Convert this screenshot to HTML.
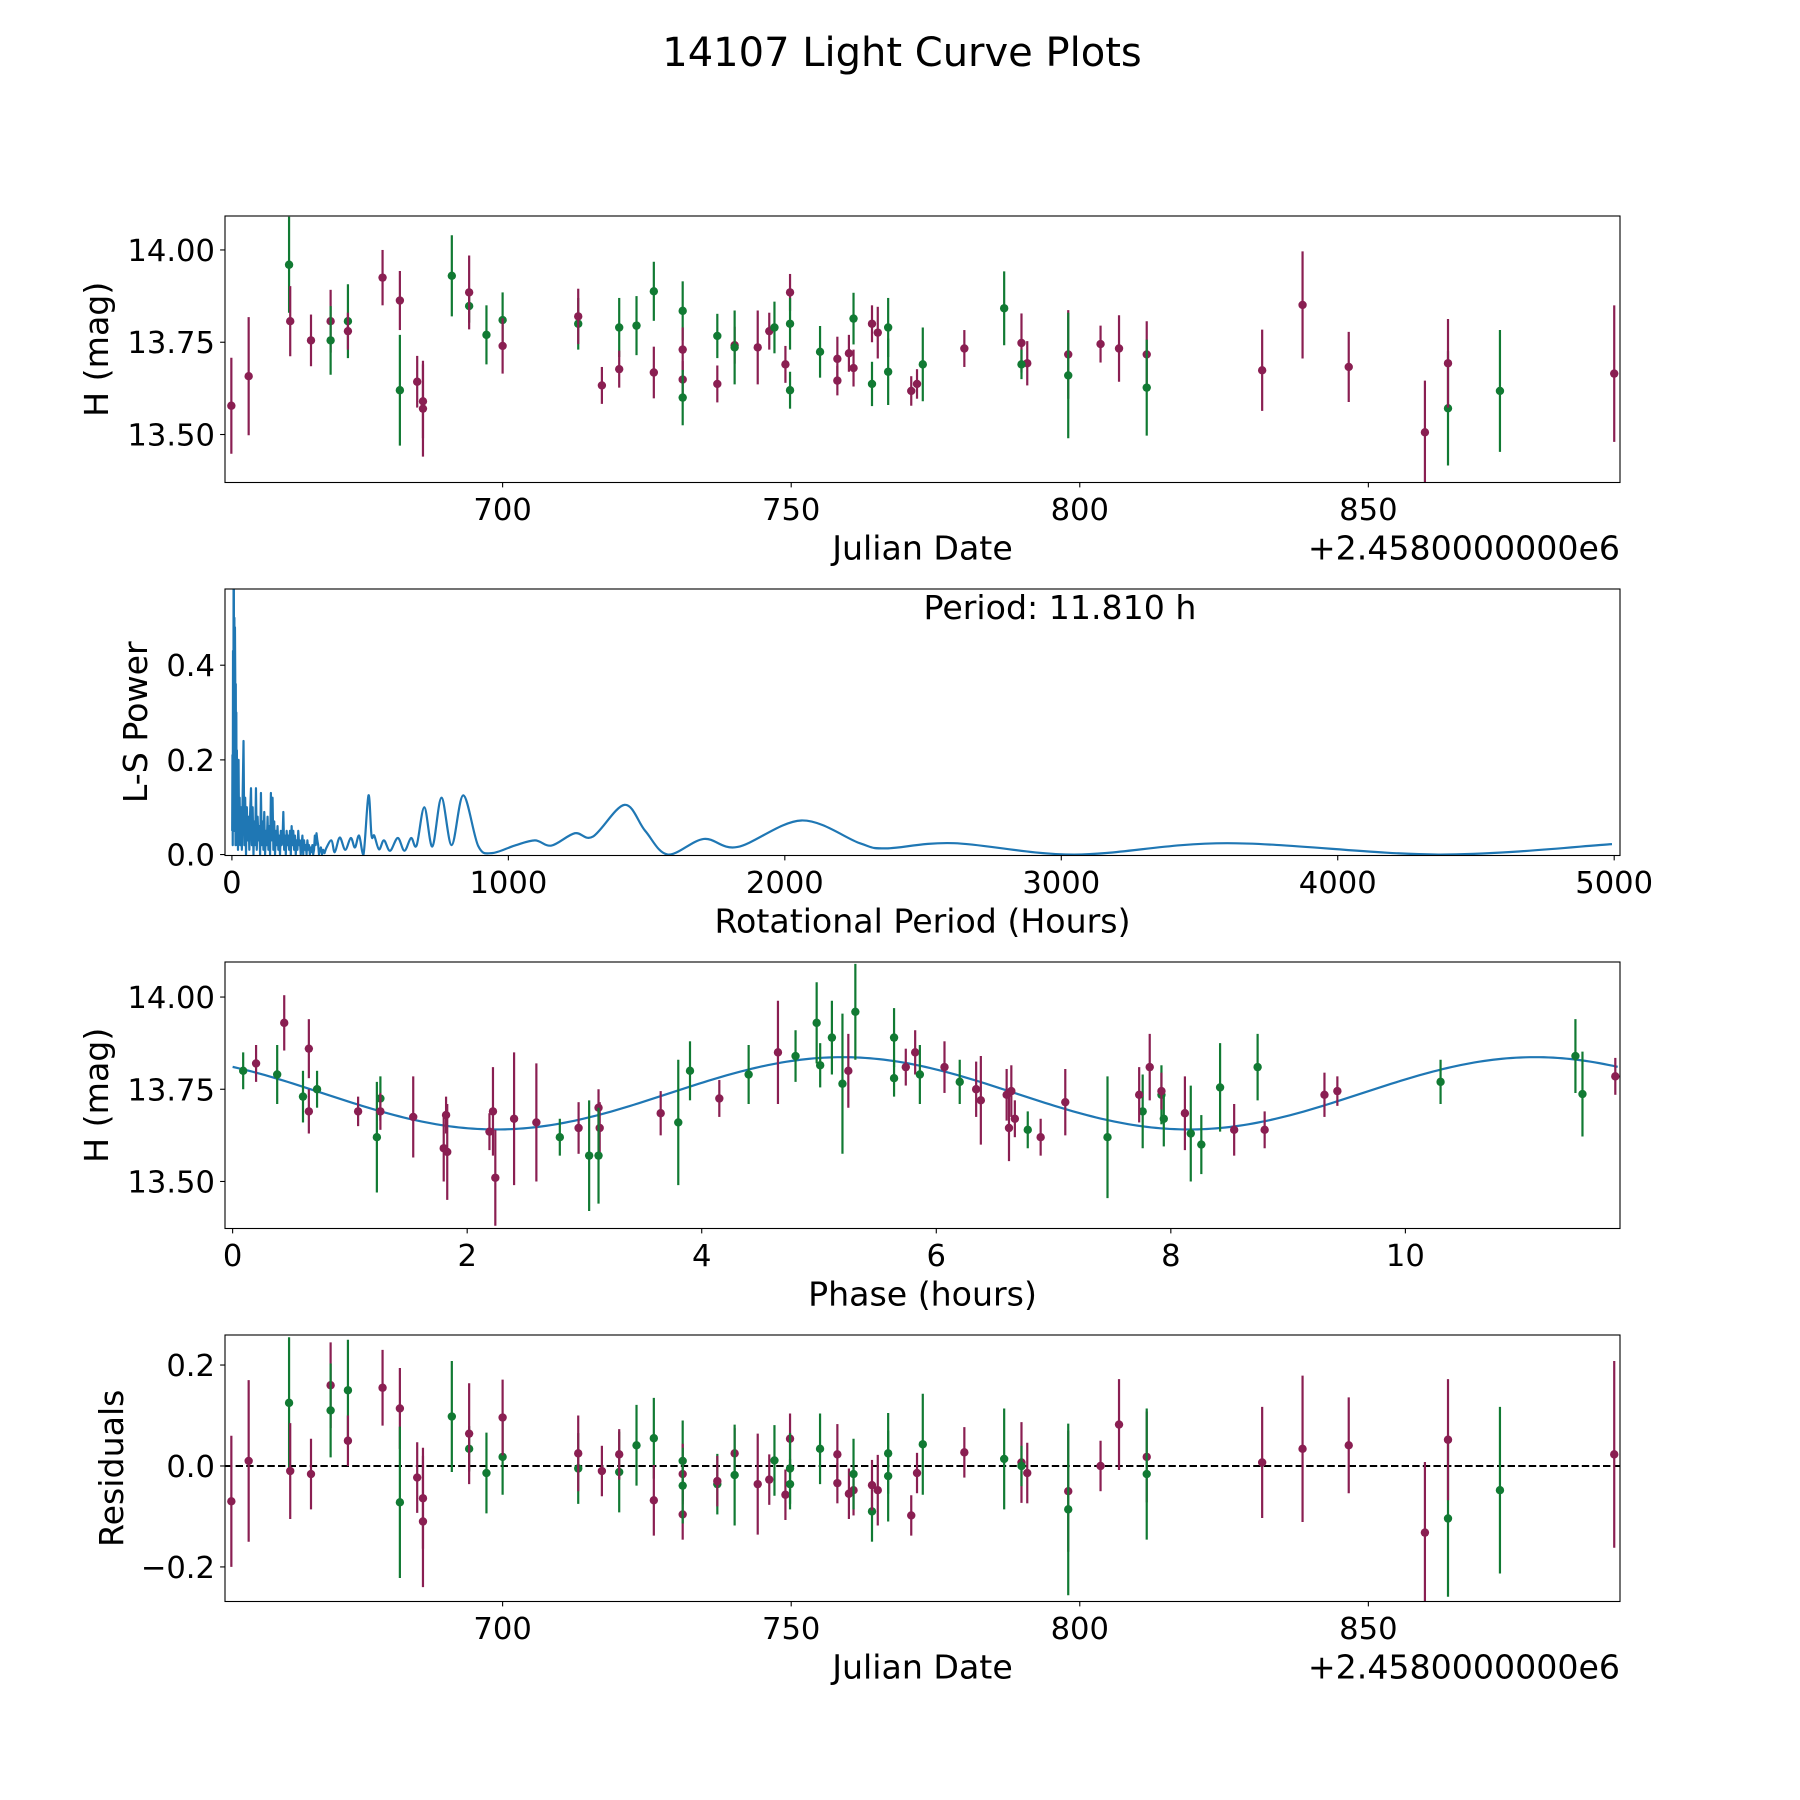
<!DOCTYPE html>
<html><head><meta charset="utf-8"><title>14107 Light Curve Plots</title>
<style>html,body{margin:0;padding:0;background:#fff}svg{display:block}text{font-family:"DejaVu Sans","Liberation Sans",sans-serif;fill:#000}</style>
</head><body>
<svg id="fig" width="1800" height="1800" viewBox="0 0 1800 1800" xmlns="http://www.w3.org/2000/svg">
<rect width="1800" height="1800" fill="#fff"/>
<text x="902" y="66" font-size="40" text-anchor="middle">14107 Light Curve Plots</text>
</svg>
<script>
// ---------- data: light curve (Julian Date offset, magnitude, error, residual) ----------
const lcColor = ['m','m','g','m','m','m','g','g','m','m','m','m','g','m','m','g','g','m','g','g','m','g','m','m','g','m','g','g','m','g','m','m','g','g','m','m','g','m','m','g','m','m','g','g','g','m','m','m','m','g','g','m','m','g','g','m','m','g','g','m','m','m','g','m','m','g','m','m','g','m','m','m','m','g','m','g','m'];
const lcDate = [653,656,663,663.2,666.8,670.2,670.2,673.2,673.2,679.2,682.2,685.2,682.2,686.2,686.2,691.2,694.2,694.2,697.2,700,700,713.1,713.1,717.2,720.2,720.2,723.2,726.2,726.2,731.2,731.2,731.2,731.2,737.2,737.2,740.2,740.2,744.2,746.2,747.1,749.0,749.8,749.8,749.8,755.0,758.0,758.0,760.0,760.8,760.8,764.0,764.0,765.0,766.8,766.8,770.8,771.8,772.8,786.9,780.0,789.9,790.9,789.9,798.0,803.6,798.0,806.8,811.6,811.6,831.6,838.6,846.6,859.8,863.8,863.8,872.8,892.6];
const lcMag = [13.578,13.658,13.96,13.807,13.755,13.807,13.755,13.807,13.78,13.925,13.863,13.643,13.62,13.59,13.57,13.93,13.848,13.885,13.77,13.81,13.74,13.80,13.82,13.633,13.79,13.677,13.795,13.888,13.668,13.835,13.73,13.649,13.6,13.767,13.637,13.742,13.736,13.736,13.78,13.79,13.69,13.885,13.80,13.62,13.724,13.705,13.646,13.72,13.68,13.814,13.637,13.80,13.776,13.79,13.67,13.618,13.637,13.69,13.842,13.733,13.748,13.693,13.69,13.717,13.745,13.66,13.733,13.717,13.627,13.674,13.851,13.683,13.506,13.571,13.693,13.618,13.665];
const lcErr = [0.13,0.16,0.13,0.095,0.07,0.085,0.093,0.1,0.05,0.075,0.08,0.07,0.15,0.1,0.13,0.11,0.045,0.1,0.08,0.075,0.075,0.07,0.075,0.05,0.08,0.05,0.08,0.08,0.07,0.08,0.06,0.05,0.075,0.06,0.05,0.05,0.1,0.1,0.05,0.07,0.05,0.05,0.07,0.05,0.07,0.06,0.04,0.05,0.05,0.07,0.06,0.05,0.07,0.08,0.09,0.04,0.04,0.1,0.1,0.05,0.08,0.06,0.04,0.12,0.05,0.17,0.09,0.09,0.13,0.11,0.145,0.095,0.14,0.155,0.12,0.165,0.185];
const lcResid = [-0.07,0.01,0.125,-0.01,-0.016,0.16,0.11,0.15,0.05,0.155,0.114,-0.023,-0.072,-0.064,-0.11,0.098,0.034,0.064,-0.014,0.018,0.096,-0.005,0.025,-0.01,-0.012,0.023,0.041,0.055,-0.068,0.01,-0.016,-0.096,-0.039,-0.036,-0.03,0.025,-0.018,-0.036,-0.027,0.011,-0.057,0.054,-0.005,-0.036,0.034,0.023,-0.034,-0.055,-0.048,-0.016,-0.09,-0.038,-0.048,0.025,-0.02,-0.098,-0.014,0.043,0.014,0.027,0.007,-0.014,0.0,-0.05,0.0,-0.086,0.082,0.018,-0.016,0.007,0.034,0.041,-0.132,-0.104,0.052,-0.048,0.023];

// ---------- data: periodogram ----------
const lsPeriod = [1,2,3,4,5,6,7,8,9,10,11,12,13,14,15,16,17,18,19,20,22,24,26,28,30,33,36,39,42,45,48,51,54,57,60,63,66,69,72,75,78,81,84,87,90,93,96,99,102,105,108,111,114,117,120,123,126,129,132,135,138,141,144,147,150,153,156,159,162,165,168,171,174,177,180,183,186,189,192,195,198,201,204,207,210,213,216,219,222,225,228,231,234,237,240,243,246,249,252,255,258,261,264,267,270,273,276,279,282,285,288,291,294,297,300,303,306,309,312,315,318,322,326,330,335,340,360,372,390,410,430,445,460,476,494,505,515,532,550,572,600,624,648,668,696,725,758,795,837,891,940,1023,1096,1156,1240,1306,1420,1495,1577,1707,1829,2060,2271,2365,2612,3047,3600,4364,4992];
const lsPower = [0.05,0.21,0.02,0.43,0.05,0.56,0.6,0.1,0.5,0.05,0.48,0.38,0.02,0.36,0.1,0.3,0.05,0.22,0.02,0.15,0.01,0.2,0.03,0.12,0.02,0.1,0.01,0.13,0.24,0.02,0.12,0.0,0.1,0.03,0.08,0.01,0.09,0.14,0.02,0.1,0.0,0.07,0.02,0.14,0.01,0.08,0.03,0.06,0.0,0.13,0.02,0.07,0.01,0.09,0.0,0.05,0.02,0.08,0.01,0.06,0.0,0.13,0.03,0.12,0.01,0.07,0.0,0.05,0.02,0.06,0.01,0.04,0.0,0.05,0.02,0.03,0.09,0.01,0.04,0.0,0.05,0.02,0.04,0.01,0.05,0.0,0.06,0.02,0.05,0.01,0.04,0.0,0.03,0.01,0.05,0.02,0.03,0.0,0.02,0.04,0.0,0.03,0.01,0.02,0.0,0.03,0.01,0.02,0.0,0.015,0.005,0.02,0.0,0.01,0.04,0.02,0.045,0.03,0.02,0.0,0.01,0.015,0.0,0.01,0.003,0.012,0.03,0.005,0.036,0.01,0.035,0.015,0.04,0.0,0.125,0.04,0.04,0.011,0.03,0.008,0.035,0.008,0.035,0.019,0.1,0.017,0.12,0.02,0.125,0.018,0.003,0.019,0.03,0.019,0.045,0.038,0.105,0.05,0.0,0.033,0.016,0.072,0.024,0.013,0.024,0.0,0.024,0.0,0.022];

// ---------- data: phased light curve ----------
const phColor = ['g','m','g','m','g','m','m','g','m','g','g','m','m','m','m','m','m','m','m','m','m','g','m','g','m','m','g','m','g','g','m','g','g','g','g','g','m','g','g','g','m','m','g','m','g','m','m','m','m','m','g','m','g','m','g','m','g','g','m','g','g','g','m','g','m','m','m','m','m','g','m','g','m','g','g','m'];
const phPhase = [0.09,0.2,0.38,0.44,0.6,0.65,0.65,0.72,1.07,1.23,1.26,1.26,1.54,1.8,1.82,1.83,2.19,2.22,2.24,2.4,2.59,2.79,2.95,3.04,3.12,3.13,3.12,3.65,3.8,3.9,4.15,4.4,4.8,4.98,5.01,5.11,4.65,5.2,5.31,5.64,5.25,5.74,5.64,5.82,5.86,6.07,6.34,6.38,6.6,6.62,6.2,6.64,6.78,6.67,7.46,6.89,7.76,7.92,7.1,7.94,8.17,8.26,7.73,8.42,7.82,7.92,8.12,8.54,8.8,8.74,9.31,10.3,9.42,11.45,11.51,11.79];
const phMag = [13.80,13.82,13.79,13.93,13.73,13.69,13.86,13.75,13.69,13.62,13.725,13.69,13.675,13.59,13.68,13.58,13.635,13.69,13.51,13.67,13.66,13.62,13.645,13.57,13.70,13.645,13.57,13.685,13.66,13.80,13.725,13.79,13.84,13.93,13.815,13.89,13.85,13.765,13.96,13.89,13.80,13.81,13.78,13.85,13.79,13.81,13.75,13.72,13.735,13.645,13.77,13.745,13.64,13.67,13.62,13.62,13.69,13.735,13.715,13.67,13.63,13.60,13.735,13.755,13.81,13.745,13.685,13.64,13.64,13.81,13.735,13.77,13.745,13.84,13.737,13.785];
const phErr = [0.05,0.05,0.08,0.075,0.07,0.06,0.08,0.05,0.04,0.15,0.06,0.05,0.11,0.09,0.05,0.13,0.05,0.12,0.13,0.18,0.16,0.05,0.07,0.15,0.05,0.07,0.13,0.06,0.17,0.08,0.05,0.08,0.07,0.11,0.06,0.1,0.14,0.19,0.13,0.08,0.1,0.05,0.05,0.06,0.08,0.07,0.075,0.12,0.07,0.09,0.06,0.07,0.05,0.05,0.165,0.05,0.1,0.08,0.09,0.075,0.13,0.08,0.075,0.12,0.09,0.05,0.1,0.07,0.05,0.09,0.06,0.06,0.04,0.1,0.115,0.05];
// sinusoidal fit parameters: [mean, amplitude, peak phase, half-period]
const fitParams = [13.739, 0.098, 5.2, 5.905];

// ---------- layout ----------
const NS = 'http://www.w3.org/2000/svg';
const svg = document.getElementById('fig');
const COL = {m:'#8a1f52', g:'#117a33'};
const FS = 30.6;
const LFS = 33.2;
function mk(tag, attrs, parent){const e=document.createElementNS(NS,tag);for(const k in attrs)e.setAttribute(k,attrs[k]);(parent||svg).appendChild(e);return e;}
function makeAxes(name, top, xmin, xmax, ymin, ymax){
  const a={name,x0:225,y0:top,w:1395,h:266.5,xmin,xmax,ymin,ymax};
  a.sx=v=>a.x0+(v-xmin)/(xmax-xmin)*a.w;
  a.sy=v=>a.y0+a.h-(v-ymin)/(ymax-ymin)*a.h;
  a.g=mk('g',{});
  
  
  const cp=mk('clipPath',{id:'clip-'+name},a.g);
  mk('rect',{x:a.x0,y:a.y0,width:a.w,height:a.h},cp);
  a.plot=mk('g',{'clip-path':'url(#clip-'+name+')'},a.g);
  return a;
}
function frame(a){
  const r=mk('rect',{x:a.x0,y:a.y0,width:a.w,height:a.h,fill:'none',stroke:'#000','stroke-width':1.1},a.g);
  
  
}
function xticks(a, vals, labels){
  vals.forEach((v,i)=>{const x=a.sx(v);
    mk('line',{x1:x,x2:x,y1:a.y0+a.h,y2:a.y0+a.h+4.9,stroke:'#000','stroke-width':1.1},a.g);
    const t=mk('text',{x:x,y:a.y0+a.h+37.5,'font-size':FS,'text-anchor':'middle'},a.g);
    t.textContent=labels[i];
    
    
  });
}
function yticks(a, vals, labels){
  vals.forEach((v,i)=>{const y=a.sy(v);
    mk('line',{x1:a.x0-4.9,x2:a.x0,y1:y,y2:y,stroke:'#000','stroke-width':1.1},a.g);
    const t=mk('text',{x:a.x0-10,y:y+11,'font-size':FS,'text-anchor':'end'},a.g);
    t.textContent=labels[i];
    
    
  });
}
function xlabel(a, txt, name){
  const t=mk('text',{x:a.x0+a.w/2,y:a.y0+a.h+77,'font-size':LFS,'text-anchor':'middle'},a.g);
  t.textContent=txt;
  
  
}
function ylabel(a, txt, cx, name){
  const cy=a.y0+a.h/2, bx=cx+12;
  const t=mk('text',{x:bx,y:cy,'font-size':LFS,'text-anchor':'middle',transform:'rotate(-90 '+bx+' '+cy+')'},a.g);
  t.textContent=txt;
  
  
}
function offsetText(a){
  const t=mk('text',{x:a.x0+a.w,y:a.y0+a.h+77,'font-size':LFS,'text-anchor':'end'},a.g);
  t.textContent='+2.4580000000e6';
  
  
}
function errPoints(a, xs, ys, es, cs, nm){
  xs.forEach((xv,i)=>{
    const x=a.sx(xv), c=COL[cs[i]];
    const l=mk('line',{x1:x,x2:x,y1:a.sy(ys[i]-es[i]),y2:a.sy(ys[i]+es[i]),stroke:c,'stroke-width':2.2},a.plot);
    
    
    const p=mk('circle',{cx:x,cy:a.sy(ys[i]),r:4.2,fill:c},a.plot);
    
    
  });
}

// ---------- panel 1: light curve ----------
const a1=makeAxes('light-curve-panel',216,651.9,893.6,13.37,14.092);
errPoints(a1, lcDate, lcMag, lcErr, lcColor, 'light-curve');
frame(a1);
xticks(a1,[700,750,800,850],['700','750','800','850']);
yticks(a1,[13.5,13.75,14.0],['13.50','13.75','14.00']);
xlabel(a1,'Julian Date','x-axis-title-julian-date');
offsetText(a1);
ylabel(a1,'H (mag)',96,'y-axis-title-magnitude');

// ---------- panel 2: periodogram ----------
const a2=makeAxes('periodogram-panel',589,-25,5021,-0.002,0.561);
(function(){
  const pts=lsPeriod.map((p,i)=>[a2.sx(p),a2.sy(lsPower[i])]);
  let d='M'+pts[0][0].toFixed(2)+' '+pts[0][1].toFixed(2);
  for(let i=0;i<pts.length-1;i++){
    const p0=pts[Math.max(0,i-1)],p1=pts[i],p2=pts[i+1],p3=pts[Math.min(pts.length-1,i+2)];
    if(lsPeriod[i]<340){d+=' L'+p2[0].toFixed(2)+' '+p2[1].toFixed(2);continue;}
    const c1=[p1[0]+(p2[0]-p0[0])/6,p1[1]+(p2[1]-p0[1])/6];
    const c2=[p2[0]-(p3[0]-p1[0])/6,p2[1]-(p3[1]-p1[1])/6];
    const base=a2.sy(0);
    c1[1]=Math.min(c1[1],base+1);c2[1]=Math.min(c2[1],base+1);
    d+=' C'+c1[0].toFixed(2)+' '+c1[1].toFixed(2)+' '+c2[0].toFixed(2)+' '+c2[1].toFixed(2)+' '+p2[0].toFixed(2)+' '+p2[1].toFixed(2);
  }
  const path=mk('path',{d:d,fill:'none',stroke:'#1f77b4','stroke-width':2.2,'stroke-linejoin':'round'},a2.plot);
  
  
})();
frame(a2);
xticks(a2,[0,1000,2000,3000,4000,5000],['0','1000','2000','3000','4000','5000']);
yticks(a2,[0,0.2,0.4],['0.0','0.2','0.4']);
xlabel(a2,'Rotational Period (Hours)','x-axis-title-rotational-period');
ylabel(a2,'L-S Power',135,'y-axis-title-ls-power');
(function(){const t=mk('text',{x:1060,y:619,'font-size':LFS,'text-anchor':'middle'},a2.g);
  t.textContent='Period: 11.810 h';
  
  })();

// ---------- panel 3: phased curve ----------
const a3=makeAxes('phase-panel',962,-0.065,11.83,13.3725,14.095);
(function(){
  let d='';
  for(let i=0;i<=300;i++){const x=i/300*11.81;
    const y=fitParams[0]+fitParams[1]*Math.cos(2*Math.PI*(x-fitParams[2])/fitParams[3]);
    d+=(i?' L':'M')+a3.sx(x).toFixed(2)+' '+a3.sy(y).toFixed(2);}
  const p=mk('path',{d:d,fill:'none',stroke:'#1f77b4','stroke-width':2.2},a3.plot);
  
  
})();
errPoints(a3, phPhase, phMag, phErr, phColor, 'phase');
frame(a3);
xticks(a3,[0,2,4,6,8,10],['0','2','4','6','8','10']);
yticks(a3,[13.5,13.75,14.0],['13.50','13.75','14.00']);
xlabel(a3,'Phase (hours)','x-axis-title-phase');
ylabel(a3,'H (mag)',96,'y-axis-title-phase-magnitude');

// ---------- panel 4: residuals ----------
const a4=makeAxes('residuals-panel',1335,651.9,893.6,-0.2685,0.2595);
(function(){const l=mk('line',{x1:a4.x0,x2:a4.x0+a4.w,y1:a4.sy(0),y2:a4.sy(0),stroke:'#000','stroke-width':2,'stroke-dasharray':'7.4,3.2'},a4.plot);
  
  })();
errPoints(a4, lcDate, lcResid, lcErr, lcColor, 'residual');
frame(a4);
xticks(a4,[700,750,800,850],['700','750','800','850']);
yticks(a4,[-0.2,0,0.2],['\u22120.2','0.0','0.2']);
xlabel(a4,'Julian Date','x-axis-title-residual-date');
offsetText(a4);
ylabel(a4,'Residuals',111,'y-axis-title-residuals');
</script>
</body></html>
